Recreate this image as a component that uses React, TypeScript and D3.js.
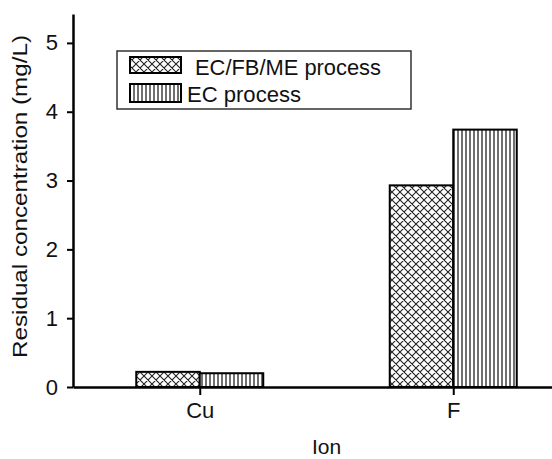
import React, { useEffect, useRef } from 'react';
import * as d3 from 'd3';

const ions = ['Cu', 'F'];
const processes = ['EC/FB/ME process', 'EC process'];
const ecfbme = [0.22, 2.93];
const ec = [0.2, 3.74];
const yTicks = [0, 1, 2, 3, 4, 5];

const App: React.FC = () => {
  const svgRef = useRef<SVGSVGElement>(null);

  useEffect(() => {
    if (!svgRef.current) return;
    const width = 552;
    const height = 459;
    const left = 73;
    const bottom = 387;

    const svg = d3.select(svgRef.current);
    svg.selectAll('*').remove();

    const defs = svg.append('defs');
    const cross = defs.append('pattern')
      .attr('id', 'cross')
      .attr('patternUnits', 'userSpaceOnUse')
      .attr('width', 8)
      .attr('height', 8);
    cross.append('rect').attr('width', 8).attr('height', 8).attr('fill', '#fff');
    cross.append('path')
      .attr('d', 'M0,0 L8,8 M8,0 L0,8 M-1,7 L1,9 M7,-1 L9,1 M-1,1 L1,-1 M7,9 L9,7')
      .attr('stroke', '#222')
      .attr('stroke-width', 1.1);

    const vert = defs.append('pattern')
      .attr('id', 'vert')
      .attr('patternUnits', 'userSpaceOnUse')
      .attr('width', 4)
      .attr('height', 4);
    vert.append('rect').attr('width', 4).attr('height', 4).attr('fill', '#fff');
    vert.append('path')
      .attr('d', 'M2,0 L2,4')
      .attr('stroke', '#222')
      .attr('stroke-width', 1.3);

    const fills = ['url(#cross)', 'url(#vert)'];

    const x = d3.scalePoint<string>().domain(ions).range([left, 580]).padding(0.5);
    const xSub = d3.scaleBand<string>().domain(processes).range([-63.5, 63.5]);
    const y = d3.scaleLinear().domain([0, 5.42]).range([bottom, 14]);

    const font = '"Liberation Sans", Arial, sans-serif';

    // Bars
    const series = [ecfbme, ec];
    ions.forEach((ion, i) => {
      processes.forEach((p, j) => {
        const v = series[j][i];
        svg.append('rect')
          .attr('x', (x(ion) as number) + (xSub(p) as number))
          .attr('y', y(v))
          .attr('width', xSub.bandwidth())
          .attr('height', y(0) - y(v))
          .attr('fill', fills[j])
          .attr('stroke', '#000')
          .attr('stroke-width', 2);
      });
    });

    // Y axis
    const yAxis = svg.append('g')
      .attr('transform', `translate(${left},0)`)
      .call(d3.axisLeft(y).tickValues(yTicks).tickFormat(d3.format('d')).tickSize(6).tickPadding(9).tickSizeOuter(0));
    yAxis.select('.domain').attr('stroke-width', 2.5);
    yAxis.selectAll('.tick line').attr('stroke-width', 2);
    yAxis.selectAll('.tick text').attr('font-size', 22).attr('font-family', font).attr('fill', '#111');

    // X axis
    const xAxis = svg.append('g')
      .attr('transform', `translate(0,${bottom})`)
      .call(d3.axisBottom(x).tickSize(8).tickPadding(7).tickSizeOuter(0));
    xAxis.select('.domain').attr('stroke-width', 2.5);
    xAxis.selectAll('.tick line').attr('stroke-width', 2);
    xAxis.selectAll('.tick text').attr('font-size', 22).attr('font-family', font).attr('fill', '#111');

    // Axis titles
    svg.append('text')
      .attr('x', (left + 580) / 2)
      .attr('y', 454)
      .attr('text-anchor', 'middle')
      .attr('font-size', 21)
      .attr('font-family', font)
      .attr('fill', '#111')
      .text('Ion');

    svg.append('text')
      .attr('transform', 'translate(27,196.5) rotate(-90)')
      .attr('text-anchor', 'middle')
      .attr('font-size', 21)
      .attr('font-family', font)
      .attr('fill', '#111')
      .attr('textLength', 323)
      .attr('lengthAdjust', 'spacingAndGlyphs')
      .text('Residual concentration (mg/L)');

    // Legend
    const lg = svg.append('g');
    lg.append('rect')
      .attr('x', 117).attr('y', 51).attr('width', 294).attr('height', 58)
      .attr('fill', '#fff').attr('stroke', '#333').attr('stroke-width', 1.5);
    const swatches = [
      { y: 57, h: 16, tx: 195, ty: 75, len: 186 },
      { y: 84, h: 18, tx: 187, ty: 102, len: 114 },
    ];
    processes.forEach((p, j) => {
      const s = swatches[j];
      lg.append('rect')
        .attr('x', 130).attr('y', s.y).attr('width', 51).attr('height', s.h)
        .attr('fill', fills[j]).attr('stroke', '#000').attr('stroke-width', 2);
      lg.append('text')
        .attr('x', s.tx).attr('y', s.ty)
        .attr('font-size', 22)
        .attr('font-family', font)
        .attr('fill', '#111')
        .attr('textLength', s.len)
        .attr('lengthAdjust', 'spacingAndGlyphs')
        .text(p);
    });

    svg.attr('width', width).attr('height', height);
  }, []);

  return (
    <svg
      ref={svgRef}
      width={552}
      height={459}
      style={{ position: 'absolute', left: 0, top: 0, background: '#fff' }}
    />
  );
};

export default App;
